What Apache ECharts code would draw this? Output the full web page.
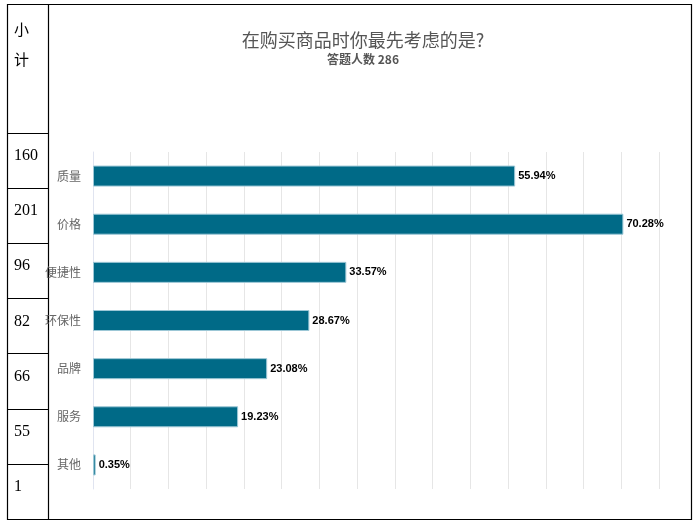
<!DOCTYPE html>
<html>
<head>
<meta charset="utf-8">
<script src="https://cdn.jsdelivr.net/npm/echarts@6/dist/echarts.min.js"></script>
<style>
  html, body { margin: 0; padding: 0; background: #fff; }
  #main { width: 697px; height: 526px; }
</style>
</head>
<body>
<div id="main"></div>
<script>
// 选项与比例
var categories = ['质量', '价格', '便捷性', '环保性', '品牌', '服务', '其他'];
var percents = [55.94, 70.28, 33.57, 28.67, 23.08, 19.23, 0.35];
// 小计列
var counts = [160, 201, 96, 82, 66, 55, 1];

var chart = echarts.init(document.getElementById('main'));

// 左侧表格：行分隔线与数字
var rowTop = 133, rowH = 55.1;
var table = [
  { type: 'rect', shape: { x: 7.5, y: 4.5, width: 684, height: 515 }, style: { fill: 'none', stroke: '#000', lineWidth: 1.2 } },
  { type: 'line', shape: { x1: 48.5, y1: 4, x2: 48.5, y2: 519 }, style: { stroke: '#000', lineWidth: 1.2 } },
  { type: 'text', x: 14, y: 22, style: { text: '小', font: '15px "Noto Sans CJK SC"', fill: '#000' } },
  { type: 'text', x: 14, y: 52, style: { text: '计', font: '15px "Noto Sans CJK SC"', fill: '#000' } }
];
counts.forEach(function (c, i) {
  var y = rowTop + i * rowH;
  table.push({ type: 'line', shape: { x1: 7, y1: Math.round(y) + 0.5, x2: 48, y2: Math.round(y) + 0.5 }, style: { stroke: '#000', lineWidth: 1.2 } });
  table.push({ type: 'text', x: 14, y: y + 15, style: { text: String(c), font: '16px "Liberation Serif"', fill: '#000' } });
});

chart.setOption({
  animation: false,
  title: {
    text: '在购买商品时你最先考虑的是?',
    subtext: '答题人数 286',
    left: 358, top: 26, textAlign: 'center', itemGap: 4,
    textStyle: { fontSize: 18, fontWeight: 'normal', color: '#555', fontFamily: 'Noto Sans CJK SC' },
    subtextStyle: { fontSize: 12, fontWeight: 'bold', color: '#555', fontFamily: 'Noto Sans CJK SC' }
  },
  graphic: table,
  grid: { left: 93, top: 152, width: 566, height: 337 },
  xAxis: {
    type: 'value', min: 0, max: 75, interval: 5,
    axisLabel: { show: false }, axisLine: { show: false }, axisTick: { show: false },
    splitLine: { lineStyle: { color: '#e6e6e6' } }
  },
  yAxis: {
    type: 'category', inverse: true, data: categories,
    axisLine: { show: true, lineStyle: { color: '#e0e4f0' } }, axisTick: { show: false },
    axisLabel: { color: '#666', fontSize: 12, margin: 12, fontFamily: 'Noto Sans CJK SC' }
  },
  series: [{
    type: 'bar', data: percents, barWidth: 21,
    itemStyle: { color: '#006a87', borderColor: '#9cc7d6', borderWidth: 1 },
    label: {
      show: true, position: 'right', distance: 3,
      formatter: function (p) { return p.value.toFixed(2) + '%'; },
      color: '#000', fontWeight: 'bold', fontSize: 11
    }
  }]
});
</script>
</body>
</html>
